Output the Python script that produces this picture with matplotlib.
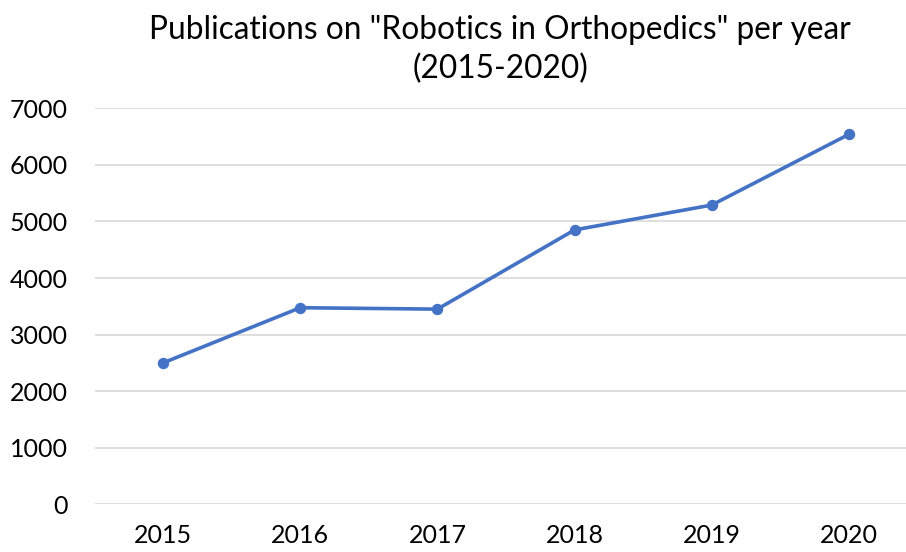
import matplotlib
matplotlib.use("Agg")
import matplotlib.pyplot as plt

years = ["2015", "2016", "2017", "2018", "2019", "2020"]
publications = [2500, 3475, 3450, 4850, 5290, 6540]
yticks = [0, 1000, 2000, 3000, 4000, 5000, 6000, 7000]

plt.rcParams['font.family'] = ['Lato', 'DejaVu Sans']

fig = plt.figure(figsize=(9.06, 5.52), dpi=100)
W, H = 906, 552
left, right = 94.5, 917.5
top, bottom = 108.3, 504.3
ax = fig.add_axes([left / W, 1 - bottom / H, (right - left) / W, (bottom - top) / H])

x = list(range(len(years)))
ax.plot(x, publications, color="#4472C4", linewidth=2.6, marker="o", markersize=7.2,
        solid_capstyle="round", zorder=3)
ax.set_xlim(-0.5, len(years) - 0.5)
ax.set_ylim(0, 7000)
ax.set_yticks(yticks)
ax.set_yticklabels([str(v) for v in yticks])
ax.set_xticks(x)
ax.set_xticklabels(years)
ax.grid(axis="y", color="#D9D9D9", linewidth=1.2)
ax.set_axisbelow(True)
for s in ax.spines.values():
    s.set_visible(False)
ax.tick_params(axis="both", length=0, labelsize=18, colors="black")
ax.tick_params(axis="y", pad=19)
ax.tick_params(axis="x", pad=14)
for lab in ax.get_yticklabels():
    lab.set_horizontalalignment("right")

fig.text(500 / W, 1 - 50 / H, 'Publications on "Robotics in Orthopedics" per year\n(2015-2020)',
         ha="center", va="center", fontsize=22.8, linespacing=1.35)

fig.savefig("out.png", dpi=100)
